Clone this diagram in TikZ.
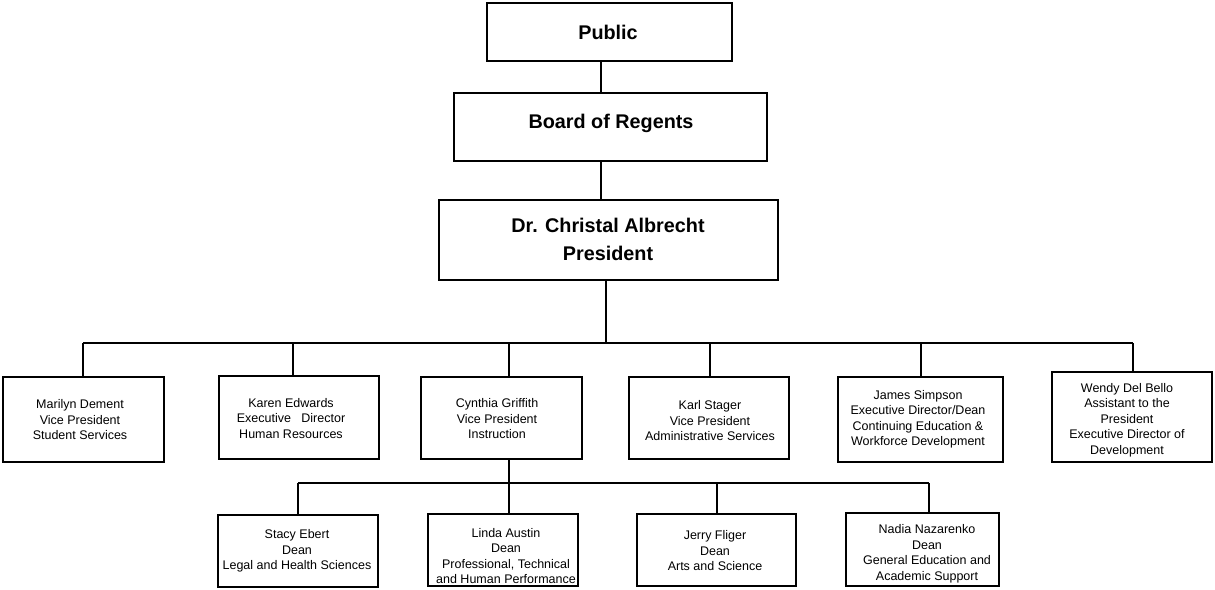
\documentclass[tikz,border=0pt]{standalone}
\usepackage{fontspec}
\setmainfont{Liberation Sans}
\usetikzlibrary{calc}
\begin{document}
\begin{tikzpicture}[x=1pt,y=-1pt,
  box/.style={draw,line width=1.6pt,inner sep=0pt,fill=white},
  conn/.style={line width=1.5pt},
  txt/.style={align=center,inner sep=0pt,font=\fontsize{12.5}{15.5}\selectfont},
  big/.style={align=center,inner sep=0pt,font=\fontsize{19.8}{28}\selectfont\bfseries}]
\useasboundingbox (0,0) rectangle (1215,589);
% top chain
\node[box,minimum width=245pt,minimum height=58pt] (public) at (609.5,32) {};
\node[big] (publict) at (608,32) {Public};
\node[box,minimum width=313pt,minimum height=68pt] (board) at (610.5,127) {};
\node[big] (boardt) at (611,123) {Board of Regents};
\node[box,minimum width=339pt,minimum height=80pt] (pres) at (608.5,240) {};
\node[big] (prest) at (608,239) {Dr. Christal Albrecht\\President};
% row 1
\node[box,minimum width=161pt,minimum height=85pt] (marilyn) at (83.5,419.5) {};
\node[txt] at (80,420) {Marilyn Dement\\Vice President\\Student Services};
\node[box,minimum width=160pt,minimum height=83pt] (karen) at (299,417.5) {};
\node[txt] at (291,418.5) {Karen Edwards\\Executive\ \ \ Director\\Human Resources};
\node[box,minimum width=161pt,minimum height=82pt] (cynthia) at (501.5,418) {};
\node[txt] at (497,419) {Cynthia Griffith\\Vice President\\Instruction};
\node[box,minimum width=160pt,minimum height=82pt] (karl) at (709,418) {};
\node[txt] at (710,421) {Karl Stager\\Vice President\\Administrative Services};
\node[box,minimum width=165pt,minimum height=85pt] (james) at (920.5,419.5) {};
\node[txt] at (918,419.5) {James Simpson\\Executive Director/Dean\\Continuing Education \&\\Workforce Development};
\node[box,minimum width=160pt,minimum height=90pt] (wendy) at (1132,417) {};
\node[txt] at (1127,420) {Wendy Del Bello\\Assistant to the\\President\\Executive Director of\\Development};
% row 2
\node[box,minimum width=160pt,minimum height=72pt] (stacy) at (298,551) {};
\node[txt] at (297,551) {Stacy Ebert\\Dean\\Legal and Health Sciences};
\node[box,minimum width=150pt,minimum height=72pt] (linda) at (503,550) {};
\node[txt] at (506,556) {Linda Austin\\Dean\\Professional, Technical\\and Human Performance};
\node[box,minimum width=159pt,minimum height=72pt] (jerry) at (716.5,550) {};
\node[txt] at (715,551) {Jerry Fliger\\Dean\\Arts and Science};
\node[box,minimum width=153pt,minimum height=73pt] (nadia) at (922.5,549.5) {};
\node[txt] at (927,554) {Nadia Nazarenko\\Dean\\General Education and\\Academic Support};
% connectors top
\coordinate (c0) at (601,0);
\draw[conn] (public.south -| c0) -- (board.north -| c0);
\draw[conn] (board.south -| c0) -- (pres.north -| c0);
% bus 1
\coordinate (bus) at (606,343);
\coordinate (b1) at (83,343);
\coordinate (b2) at (293,343);
\coordinate (b3) at (509,343);
\coordinate (b4) at (710,343);
\coordinate (b5) at (921,343);
\coordinate (b6) at (1133,343);
\draw[conn] (pres.south -| bus) -- (bus);
\draw[conn] (b1) -- (b6);
\draw[conn] (b1) -- (b1 |- marilyn.north);
\draw[conn] (b2) -- (b2 |- karen.north);
\draw[conn] (b3) -- (b3 |- cynthia.north);
\draw[conn] (b4) -- (b4 |- karl.north);
\draw[conn] (b5) -- (b5 |- james.north);
\draw[conn] (b6) -- (b6 |- wendy.north);
% bus 2
\coordinate (d0) at (509,483);
\coordinate (d1) at (298,483);
\coordinate (d2) at (509,483);
\coordinate (d3) at (717,483);
\coordinate (d4) at (929,483);
\draw[conn] (d0 |- cynthia.south) -- (d0);
\draw[conn] (d1) -- (d4);
\draw[conn] (d1) -- (d1 |- stacy.north);
\draw[conn] (d2) -- (d2 |- linda.north);
\draw[conn] (d3) -- (d3 |- jerry.north);
\draw[conn] (d4) -- (d4 |- nadia.north);
\end{tikzpicture}
\end{document}
